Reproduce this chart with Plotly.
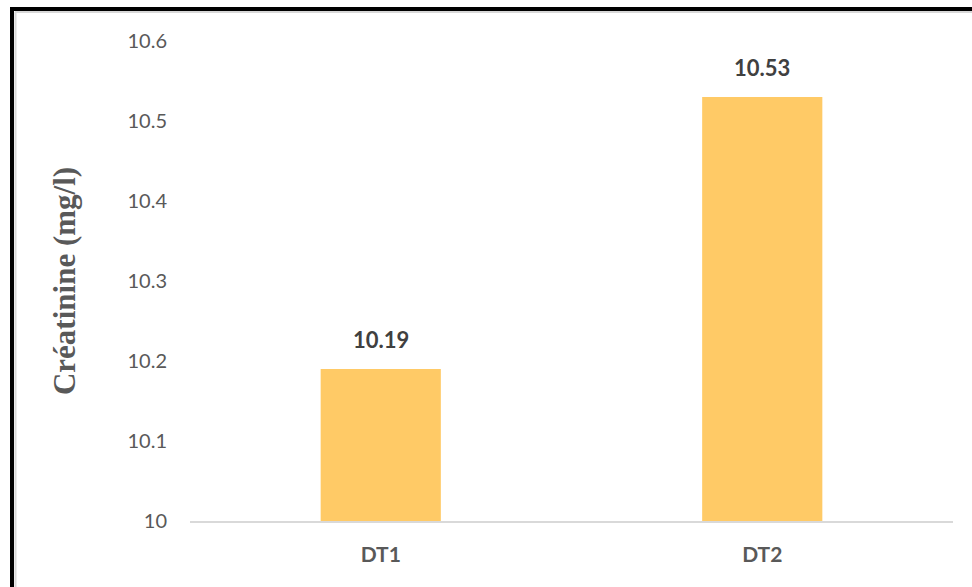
import plotly.graph_objects as go

# Serum creatinine by group
groups = ["DT1", "DT2"]
creatinine = [10.19, 10.53]
y_ticks = [10, 10.1, 10.2, 10.3, 10.4, 10.5, 10.6]
y_tick_text = ["10", "10.1", "10.2", "10.3", "10.4", "10.5", "10.6"]

W, H = 972, 587
ML, MR, MT, MB = 190, 19, 41, 66
PW, PH = W - ML - MR, H - MT - MB


def px_x(p):
    return (p - ML) / PW


def px_y(p):
    return (H - MB - p) / PH


fig = go.Figure(
    go.Bar(
        x=groups,
        y=creatinine,
        marker=dict(color="#FFCA66", line=dict(width=0)),
        width=0.315,
        hoverinfo="x+y",
    )
)

# value labels sitting above each bar
annotations = [
    dict(x=g, y=v, xref="x", yref="y", text=f"{v:.2f}", showarrow=False,
         yanchor="bottom", yshift=14,
         font=dict(family="Lato", size=22, color="#404040", weight="bold"))
    for g, v in zip(groups, creatinine)
]

# frame: black edge with a soft grey shadow on the left and top
shapes = [
    dict(type="line", xref="paper", yref="paper",
         x0=px_x(15.5), x1=px_x(15.5), y0=px_y(12), y1=px_y(H + 5),
         line=dict(color="#d8d8d8", width=2)),
    dict(type="line", xref="paper", yref="paper",
         x0=px_x(15), x1=px_x(W + 5), y0=px_y(12), y1=px_y(12),
         line=dict(color="#d8d8d8", width=2)),
    dict(type="line", xref="paper", yref="paper",
         x0=px_x(12), x1=px_x(12), y0=px_y(7), y1=px_y(H + 5),
         line=dict(color="black", width=4)),
    dict(type="line", xref="paper", yref="paper",
         x0=px_x(10), x1=px_x(W + 5), y0=px_y(9), y1=px_y(9),
         line=dict(color="black", width=4)),
]

fig.update_layout(
    width=W, height=H,
    margin=dict(l=ML, r=MR, t=MT, b=MB),
    paper_bgcolor="white",
    plot_bgcolor="white",
    showlegend=False,
    bargap=0.685,
    shapes=shapes,
    annotations=annotations,
    xaxis=dict(
        showgrid=False, showline=True, linecolor="#d9d9d9", linewidth=2,
        ticks="", tickfont=dict(family="Lato", size=21, color="#595959", weight="bold"),
        ticklabelstandoff=14,
    ),
    yaxis=dict(
        range=[10, 10.6], tickvals=y_ticks, ticktext=y_tick_text,
        showgrid=False, zeroline=False, showline=False, ticks="",
        tickfont=dict(family="Lato", size=20, color="#595959"),
        ticklabelstandoff=22,
        title=dict(text="Créatinine (mg/l)", standoff=42,
                   font=dict(family="Liberation Serif", size=31, color="#595959", weight="bold")),
    ),
)

fig.write_html("out.html")
